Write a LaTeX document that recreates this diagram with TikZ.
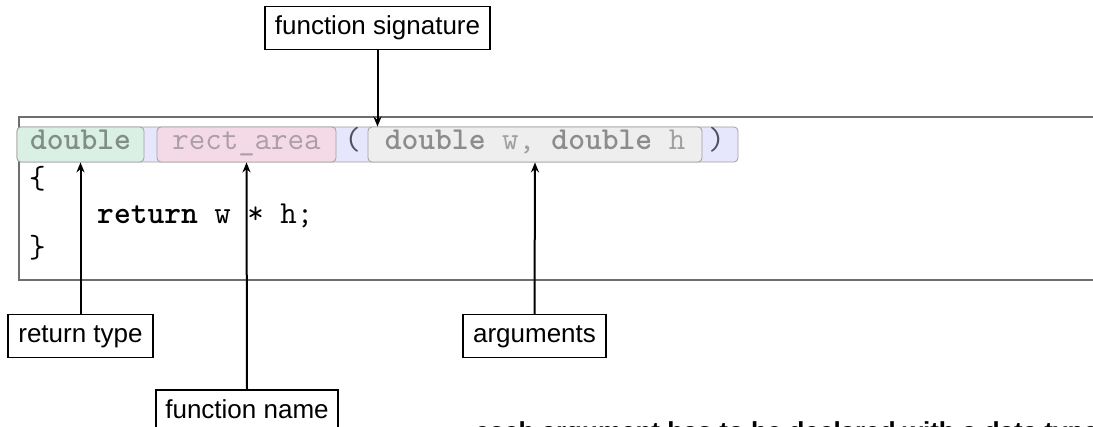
\documentclass[tikz,border=0pt]{standalone}
\usepackage{fontspec}
\setmainfont{Liberation Sans}
\usetikzlibrary{arrows.meta}
\definecolor{framegray}{RGB}{110,110,110}
\definecolor{boxborder}{RGB}{160,160,160}
\definecolor{lav}{RGB}{230,230,252}
\definecolor{mint}{RGB}{218,240,228}
\definecolor{rosy}{RGB}{244,218,230}
\definecolor{argfill}{RGB}{238,238,238}
\definecolor{txtgreen}{RGB}{128,142,134}
\definecolor{txtpink}{RGB}{172,158,165}
\definecolor{txtgray}{RGB}{140,140,140}
\definecolor{txtlight}{RGB}{160,160,160}
\definecolor{paren}{RGB}{80,80,90}
\newcommand\codefnt{\ttfamily\fontsize{32}{34}\selectfont}
\tikzset{
  codebox/.style={draw=boxborder, line width=0.8pt, rounded corners=4pt, inner sep=0pt,
    minimum height=35pt, text height=17pt, text depth=6pt, font=\codefnt},
  label/.style={draw=black, line width=1.4pt, fill=white, inner sep=0pt,
    minimum height=43pt, text height=19pt, text depth=5pt,
    font=\fontsize{26}{30}\selectfont},
  codetext/.style={anchor=base west, inner sep=0pt, font=\codefnt},
  pointer/.style={draw=black, line width=2pt, -{Stealth[length=10pt,width=8pt]}},
  frameline/.style={draw=framegray, line width=1.6pt}
}
\begin{document}
\begin{tikzpicture}[x=1pt,y=-1pt]
\useasboundingbox (0,0) rectangle (1093,427);
\clip (0,0) rectangle (1093,427);
% code frame
\coordinate (ftl) at (19,117);
\coordinate (ftr) at (1100,117);
\coordinate (fbl) at (19,280);
\coordinate (fbr) at (1100,280);
\draw[frameline] (ftr) -- (ftl) -- (fbl) -- (fbr);
% signature boxes
\node[codebox, fill=lav, minimum width=721pt] (sig) at (377.5,144.5) {};
\node[codebox, fill=mint, minimum width=127pt, text=txtgreen] (rtype) at (80.5,144.5) {\textbf{double}};
\node[codebox, fill=rosy, minimum width=179pt, text=txtpink] (fname) at (246.5,144.5) {rect\_area};
\node[codebox, fill=argfill, minimum width=334pt] (args) at (535,144.5)
  {\textcolor{txtgray}{\textbf{double}}\textcolor{txtlight}{\ w,\ }\textcolor{txtgray}{\textbf{double}}\textcolor{txtlight}{\ h}};
\node[codebox, draw=none, text=paren, minimum width=0pt] (lp) at (352.5,144.5) {(};
\node[codebox, draw=none, text=paren, minimum width=0pt] (rp) at (716.5,144.5) {)};
% body
\node[codetext] (ob) at (29,189) {\{};
\node[codetext] (ret) at (97,223.5) {\textbf{return} w * h;};
\node[codetext] (cb) at (29,258) {\}};
% labels
\node[label, minimum width=225pt] (lsig) at (377.5,28) {function signature};
\node[label, minimum width=145pt] (lrt) at (80.5,336) {return type};
\node[label, minimum width=143pt] (larg) at (534.5,336) {arguments};
\node[label, minimum width=182pt] (lfn) at (247,411.5) {function name};
% pointers
\draw[pointer] (lsig.south) -- (sig.north);
\draw[pointer] (lrt.north) -- (rtype.south);
\draw[pointer] (lfn.north) -- (fname.south);
\draw[pointer] (larg.north) -- (args.south);
% note
\node[anchor=base west, inner sep=0pt, font=\bfseries\fontsize{26}{30}\selectfont] (note) at (475,441) {each argument has to be declared with a data type};
\end{tikzpicture}
\end{document}
